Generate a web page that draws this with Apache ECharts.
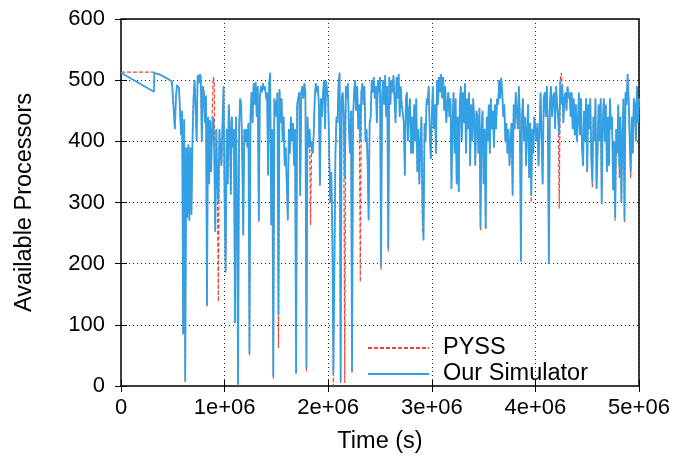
<!DOCTYPE html>
<html>
<head>
<meta charset="utf-8">
<script src="https://cdn.jsdelivr.net/npm/echarts@6/dist/echarts.min.js"></script>
<style>html,body{margin:0;padding:0;background:#fff}#c{width:678px;height:459px}</style>
</head>
<body>
<div id="c"></div>
<script>
// Time in kiloseconds (ks); axis tick labels show seconds
const xTickLabels = ['0', '1e+06', '2e+06', '3e+06', '4e+06', '5e+06'];
const yTickLabels = ['0', '100', '200', '300', '400', '500', '600'];
const seriesNames = ['PYSS', 'Our Simulator'];

// Start of trace (irregular samples)
const oursStartT = [0, 318, 321, 376, 454, 492];
const oursStartV = [512, 481, 512, 509, 502, 498];
const pyssStartT = [0, 318, 321, 376, 454, 492];
const pyssStartV = [513, 513, 512, 509, 502, 498];

// Dense part: samples every 10 ks starting at 520 ks
const denseStartKs = 520;
const denseStepKs = 10;

const oursDense = [
420,470,492,490,487,484,410,450,85,436,8,390,275,395,270,390,280,400,
470,500,455,400,508,495,510,505,400,490,480,430,475,132,440,330,435,350,420,440,380,252,420,330,300,420,380,
360,430,490,300,187,420,330,460,420,313,440,390,420,103,440,300,3,420,470,460,380,246,420,400,420,390,430,54,
440,480,430,495,460,497,440,490,271,470,490,480,495,485,490,470,480,344,495,512,263,420,16,470,460,440,480,116,
485,430,470,400,440,360,390,330,273,420,380,440,400,430,360,420,21,460,470,480,311,480,490,470,495,480,29,440,
390,420,390,400,380,410,470,495,480,490,460,328,470,440,480,500,420,498,480,470,380,300,350,250,20,200,380,440,
430,495,512,8,470,480,440,340,490,470,495,420,380,450,24,440,480,500,450,490,420,460,400,480,495,460,490,400,
420,370,271,430,440,500,480,505,470,490,430,500,480,505,195,470,500,460,508,440,490,225,505,460,500,480,508,470,
430,505,470,510,440,490,460,460,430,344,470,480,400,450,470,380,440,380,460,400,470,350,420,330,400,440,300,
238,430,400,470,460,490,420,371,440,490,420,460,380,500,460,505,480,510,470,505,450,490,430,460,480,440,470,322,
430,480,380,470,330,440,317,460,490,400,480,430,495,380,470,420,480,360,460,400,470,430,360,450,440,380,455,260,
420,450,330,420,257,440,400,460,380,470,420,450,390,460,420,470,460,500,470,504,480,440,460,400,430,380,420,360,
400,430,311,460,420,480,450,420,490,440,203,440,470,400,440,360,420,460,340,430,311,420,380,440,420,400,430,360,
420,480,400,330,470,480,440,490,430,200,460,490,440,470,480,420,490,460,440,410,500,460,490,430,470,480,450,490,
470,480,440,480,420,470,410,460,400,430,480,410,470,390,360,450,400,470,350,460,420,470,370,333,440,400,470,322,
380,460,400,470,298,430,470,400,460,350,440,360,470,420,440,320,400,274,420,380,460,360,440,300,410,470,271,
480,460,510,470,400,350,440,380,470,460,400,490,430,470
];

const pyssDense = [
420,470,492,490,487,484,410,450,84,436,5,390,275,395,270,390,280,400,
470,500,455,400,508,495,510,505,400,490,480,430,475,130,440,330,435,360,440,505,500,252,420,330,138,420,380,
360,430,490,300,185,420,330,460,430,313,440,390,420,103,440,300,0,420,470,460,380,250,420,400,420,390,430,50,
440,480,430,495,460,497,440,490,268,470,490,480,495,485,490,470,480,344,495,512,263,420,12,470,460,440,480,62,
485,430,470,400,440,360,390,330,270,420,380,440,400,430,360,420,18,460,470,480,311,480,490,470,495,480,24,440,
390,420,263,400,380,410,470,495,480,490,460,328,470,440,480,500,420,498,480,470,380,300,350,240,0,200,380,440,
430,495,512,5,470,480,440,5,490,470,495,420,380,450,20,440,480,500,450,490,420,460,170,480,495,460,490,400,
420,370,271,430,440,500,480,505,470,490,430,500,480,505,190,470,500,460,508,440,490,220,505,460,500,480,508,470,
430,505,470,510,440,490,460,460,430,344,470,480,400,450,470,380,440,380,460,400,470,350,420,330,400,440,252,
245,430,400,470,460,490,420,371,440,490,420,460,380,500,460,505,480,510,470,505,450,490,430,460,480,440,470,322,
430,480,380,470,330,440,317,460,490,400,480,430,495,380,470,420,480,360,460,400,470,430,360,450,440,380,455,255,
420,450,330,420,257,440,400,460,380,470,420,450,390,460,420,470,460,500,470,504,480,440,460,400,430,380,420,360,
400,430,311,460,420,480,450,420,490,440,205,440,470,400,440,360,420,460,340,430,300,420,380,440,420,400,430,360,
420,480,400,330,470,480,440,490,430,200,460,490,440,470,480,420,490,460,440,290,500,512,490,430,470,480,450,490,
470,480,440,480,420,470,410,460,400,430,480,410,470,390,360,450,400,470,350,460,420,470,370,325,440,400,470,322,
380,460,400,470,298,430,470,400,460,350,440,360,470,420,440,320,400,270,420,380,460,340,440,300,410,470,268,
480,460,510,470,400,340,440,380,470,460,400,490,430,470
];

function build(startT, startV, dense) {
  const out = startT.map((t, i) => [t, startV[i]]);
  dense.forEach((v, i) => out.push([denseStartKs + i * denseStepKs, v]));
  return out;
}

const FONT = '"Liberation Sans", Arial, Helvetica, sans-serif';
const chart = echarts.init(document.getElementById('c'), null, {renderer: 'canvas'});
const tickStyle = {inside: true, length: 6, lineStyle: {color: '#000', width: 1}};
const gridLine = {show: true, lineStyle: {type: [1, 3], color: '#222', width: 1}};

chart.setOption({
  animation: false,
  backgroundColor: '#fff',
  grid: {left: 121, right: 39, top: 19, bottom: 71, show: true, borderColor: '#000', borderWidth: 1.5, backgroundColor: 'transparent'},
  legend: {
    data: seriesNames, orient: 'vertical', left: 367, top: 336, padding: 0,
    itemWidth: 61, itemHeight: 12, itemGap: 2,
    itemStyle: {opacity: 0},
    textStyle: {fontSize: 23.5, color: '#000', fontFamily: FONT, padding: [0, 0, 0, 9]}
  },
  xAxis: [
    {type: 'value', min: 0, max: 5000, interval: 1000,
     axisLine: {show: false}, axisTick: tickStyle, splitLine: gridLine,
     axisLabel: {formatter: v => xTickLabels[Math.round(v / 1000)], color: '#000', fontSize: 22, fontFamily: FONT, margin: 11},
     name: 'Time (s)', nameLocation: 'middle', nameGap: 44,
     nameTextStyle: {fontSize: 23.5, color: '#000', fontFamily: FONT, verticalAlign: 'top'}},
    {type: 'value', position: 'top', min: 0, max: 5000, interval: 1000,
     axisLine: {show: false}, axisTick: tickStyle, axisLabel: {show: false}, splitLine: {show: false}}
  ],
  yAxis: [
    {type: 'value', min: 0, max: 600, interval: 100,
     axisLine: {show: false}, axisTick: tickStyle, splitLine: gridLine,
     axisLabel: {formatter: v => yTickLabels[Math.round(v / 100)], color: '#000', fontSize: 22, fontFamily: FONT, margin: 16},
     name: 'Available Processors', nameLocation: 'middle', nameGap: 84,
     nameTextStyle: {fontSize: 23.5, color: '#000', fontFamily: FONT}},
    {type: 'value', position: 'right', min: 0, max: 600, interval: 100,
     axisLine: {show: false}, axisTick: tickStyle, axisLabel: {show: false}, splitLine: {show: false}}
  ],
  series: [
    {name: seriesNames[0], type: 'line', data: build(pyssStartT, pyssStartV, pyssDense),
     symbol: 'none', showSymbol: false, z: 2, clip: true,
     lineStyle: {color: '#e5473d', width: 1.2, type: [4, 2]}, itemStyle: {color: '#e5473d'}},
    {name: seriesNames[1], type: 'line', data: build(oursStartT, oursStartV, oursDense),
     symbol: 'none', showSymbol: false, z: 3, clip: true,
     lineStyle: {color: '#34a0e4', width: 1.8}, itemStyle: {color: '#34a0e4'}}
  ]
});
</script>
</body>
</html>
